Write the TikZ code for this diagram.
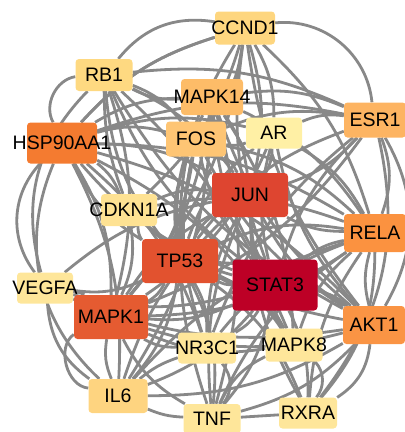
\documentclass[tikz,border=0pt]{standalone}
\usepackage{fontspec}
\setmainfont{Liberation Sans}
\usetikzlibrary{backgrounds}
\definecolor{edgegray}{HTML}{888888}
\definecolor{cSTAT}{HTML}{BD0026}
\definecolor{cJUN}{HTML}{DE4530}
\definecolor{cTP}{HTML}{E2522F}
\definecolor{cMAPKa}{HTML}{E55B31}
\definecolor{cHSP}{HTML}{F47B30}
\definecolor{cRELA}{HTML}{FB9240}
\definecolor{cAKT}{HTML}{FA9444}
\definecolor{cESR}{HTML}{FDB462}
\definecolor{cMAPKf}{HTML}{FDBC68}
\definecolor{cFOS}{HTML}{FEC574}
\definecolor{cCCND}{HTML}{FED67F}
\definecolor{cRB}{HTML}{FED981}
\definecolor{cIL}{HTML}{FED480}
\definecolor{cCDKN}{HTML}{FEE293}
\definecolor{cAR}{HTML}{FFF0A5}
\definecolor{cLight}{HTML}{FEE69A}
\begin{document}
\begin{tikzpicture}[x=1pt,y=1pt,
  genetext/.style={font=\fontsize{19.5}{20}\selectfont, text=black, inner sep=0pt},
  gene/.style={rectangle, rounded corners=3.5pt, inner sep=0pt, label={[genetext]center:#1}},
  edge/.style={draw=edgegray, line width=2.8pt}]
\useasboundingbox (0,0) rectangle (405,-432);
\node[gene=CCND1, fill=cCCND, minimum width=60pt, minimum height=33pt] (ccnd1) at (245,-28) {};
\node[gene=RB1, fill=cRB, minimum width=57pt, minimum height=32pt] (rb1) at (104,-75) {};
\node[gene=MAPK14, fill=cMAPKf, minimum width=62pt, minimum height=36pt] (mapk14) at (212,-97) {};
\node[gene=ESR1, fill=cESR, minimum width=62pt, minimum height=35pt] (esr1) at (375,-120) {};
\node[gene=HSP90AA1, fill=cHSP, minimum width=70pt, minimum height=41pt] (hsp) at (62,-143) {};
\node[gene=FOS, fill=cFOS, minimum width=60pt, minimum height=35pt] (fos) at (196,-139) {};
\node[gene=AR, fill=cAR, minimum width=56pt, minimum height=31pt] (ar) at (274,-133) {};
\node[gene=JUN, fill=cJUN, minimum width=76pt, minimum height=44pt] (jun) at (250,-195) {};
\node[gene=CDKN1A, fill=cCDKN, minimum width=56pt, minimum height=32pt] (cdkn) at (129,-210) {};
\node[gene=RELA, fill=cRELA, minimum width=62pt, minimum height=38pt] (rela) at (375,-233) {};
\node[gene=TP53, fill=cTP, minimum width=76pt, minimum height=44pt] (tp53) at (180,-261) {};
\node[gene=STAT3, fill=cSTAT, minimum width=85pt, minimum height=51pt] (stat3) at (275,-285) {};
\node[gene=VEGFA, fill=cLight, minimum width=56pt, minimum height=31pt] (vegfa) at (45,-288) {};
\node[gene=MAPK1, fill=cMAPKa, minimum width=74pt, minimum height=44pt] (mapk1) at (111,-317) {};
\node[gene=AKT1, fill=cAKT, minimum width=62pt, minimum height=38pt] (akt1) at (374,-325) {};
\node[gene=NR3C1, fill=cLight, minimum width=58pt, minimum height=31pt] (nr3c1) at (207,-348) {};
\node[gene=MAPK8, fill=cLight, minimum width=57pt, minimum height=33pt] (mapk8) at (294,-345) {};
\node[gene=IL6, fill=cIL, minimum width=59pt, minimum height=34pt] (il6) at (118,-396) {};
\node[gene=TNF, fill=cLight, minimum width=57pt, minimum height=30pt] (tnf) at (212,-419) {};
\node[gene=RXRA, fill=cLight, minimum width=58pt, minimum height=31pt] (rxra) at (308,-413) {};
\begin{pgfonlayer}{background}
\foreach \b in {jun,tp53,mapk1,hsp,rela,akt1,esr1,mapk14,fos,ccnd1,rb1,il6,cdkn,ar,vegfa,nr3c1,mapk8,tnf,rxra}
  \draw[edge] (stat3) to[bend left=14] (\b);
\foreach \b in {tp53,mapk1,hsp,rela,akt1,esr1,mapk14,fos,ccnd1,rb1,il6,cdkn,ar,nr3c1,mapk8,tnf,rxra,vegfa}
  \draw[edge] (jun) to[bend right=14] (\b);
\foreach \b in {mapk1,hsp,rela,akt1,esr1,mapk14,fos,ccnd1,rb1,il6,cdkn,ar,vegfa,nr3c1,mapk8,tnf,rxra}
  \draw[edge] (tp53) to[bend left=16] (\b);
\foreach \b in {hsp,rela,akt1,esr1,mapk14,fos,ccnd1,rb1,cdkn,ar,vegfa,nr3c1,mapk8,tnf,il6}
  \draw[edge] (mapk1) to[bend right=16] (\b);
\foreach \b in {rela,akt1,esr1,mapk14,fos,ccnd1,il6,cdkn,ar,nr3c1,mapk8}
  \draw[edge] (hsp) to[bend left=15] (\b);
\foreach \b in {akt1,mapk14,fos,ccnd1,il6,cdkn,ar,nr3c1,mapk8,tnf,rxra}
  \draw[edge] (rela) to[bend right=15] (\b);
\foreach \b in {mapk14,fos,ccnd1,rb1,il6,cdkn,ar,vegfa,tnf}
  \draw[edge] (akt1) to[bend left=15] (\b);
\foreach \b in {mapk14,fos,rb1,ar,nr3c1}
  \draw[edge] (esr1) to[bend right=15] (\b);
\foreach \b in {fos,rb1,il6,tnf,mapk8}
  \draw[edge] (mapk14) to[bend left=15] (\b);
\foreach \b in {ccnd1,rb1,ar,nr3c1,tnf}
  \draw[edge] (fos) to[bend right=15] (\b);
\foreach \b in {cdkn,ar}
  \draw[edge] (ccnd1) to[bend left=15] (\b);
\draw[edge] (rb1) to[bend right=10] (cdkn);
\draw[edge] (rb1) to[bend left=12] (mapk8);
\draw[edge] (il6) to[bend left=10] (nr3c1);
\draw[edge] (nr3c1) to[bend left=40] (tnf);
\draw[edge] (mapk8) to[bend left=40] (rxra);
\draw[edge] (mapk8) to[bend right=20] (tnf);
% outer arcs
\draw[edge] (ccnd1) to[bend left=45] (esr1);
\draw[edge] (ccnd1) to[bend right=30] (rb1);
\draw[edge] (ccnd1) to[bend right=15] (hsp);
\draw[edge] (rb1) to[bend right=55] (hsp);
\draw[edge] (rb1) to[bend right=30] (vegfa);
\draw[edge] (hsp) to[bend right=40] (vegfa);
\draw[edge] (hsp) to[bend right=35] (il6);
\draw[edge] (esr1) to[bend left=30] (akt1);
\draw[edge] (esr1) to[bend left=20] (rela);
\draw[edge] (esr1) to[bend left=25] (rxra);
\draw[edge] (il6) to[bend left=70] (mapk1);
\draw[edge] (vegfa) to[bend right=25] (il6);
\draw[edge] (il6) to[bend right=10] (tnf);
\draw[edge] (tnf) -- (rxra);
\draw[edge] (rxra) to[bend right=25] (akt1);
\draw[edge] (rela) to[bend left=20] (rxra);
\end{pgfonlayer}
\end{tikzpicture}
\end{document}
